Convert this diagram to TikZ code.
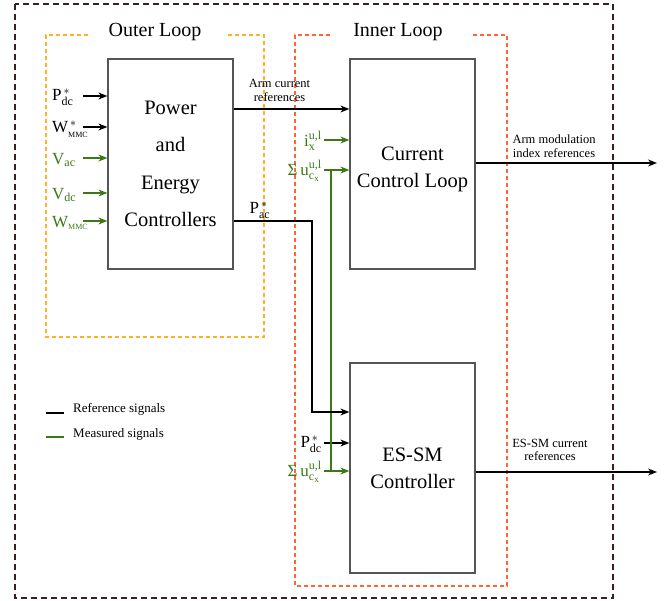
\documentclass[tikz,border=0pt]{standalone}
\usepackage{amsmath}
\usepackage{fontspec}
\setmainfont{Liberation Serif}
\DeclareMathSizes{17}{17}{12}{9}
\usetikzlibrary{arrows.meta}
\definecolor{meas}{RGB}{60,120,20}
\definecolor{outerc}{RGB}{60,30,30}
\definecolor{olc}{RGB}{255,175,40}
\definecolor{ilc}{RGB}{255,100,55}
\definecolor{boxc}{RGB}{85,85,85}
\newcommand\mmcsub{\text{\fontsize{8}{8}\selectfont MMC}}
\begin{document}
\begin{tikzpicture}[x=1pt,y=-1pt,
  block/.style={draw=boxc, line width=1.3pt, fill=white, minimum width=125pt, minimum height=210pt, align=center, inner sep=0pt},
  sig/.style={draw=black, line width=1.1pt, -{Stealth[length=9pt,width=7pt]}},
  msig/.style={draw=meas, line width=1.1pt, -{Stealth[length=9pt,width=7pt]}},
  mline/.style={draw=meas, line width=1.1pt},
  rline/.style={draw=black, line width=1.1pt},
  lbl/.style={font=\fontsize{17}{19}\selectfont, inner sep=2pt},
  small/.style={font=\fontsize{12.5}{13.5}\selectfont, align=center, inner sep=1pt},
  title/.style={font=\fontsize{20}{24}\selectfont, inner sep=0pt},
  outerbox/.style={draw=outerc, line width=1.1pt, dash pattern=on 6pt off 4pt},
  olbox/.style={draw=olc, line width=1.3pt, dash pattern=on 4pt off 3pt},
  ilbox/.style={draw=ilc, line width=1.3pt, dash pattern=on 4pt off 3pt}
]
\useasboundingbox (0,0) rectangle (672,601);
% dashed frames
\draw[outerbox] (15,4) rectangle (613,598);
\draw[olbox] (88,35) -- (46,35) -- (46,337) -- (264,337) -- (264,35) -- (228,35);
\draw[ilbox] (330,35) -- (295,35) -- (295,586) -- (507,586) -- (507,35) -- (470,35);
\node[title] (tol) at (155,32) {Outer Loop};
\node[title] (til) at (398,32) {Inner Loop};
% blocks
\node[block, font=\fontsize{20.5}{37.5}\selectfont] (pw) at (170.5,164) {Power\\and\\Energy\\Controllers};
\node[block, font=\fontsize{20.5}{27}\selectfont, text height=51pt] (cc) at (412.5,164) {Current\\Control Loop};
\node[block, font=\fontsize{20.5}{27}\selectfont] (es) at (412.5,468) {ES-SM\\Controller};
% inputs of power block
\node[lbl, anchor=west] (i1) at (50,97) {$\text{P}^{\,*}_{\text{dc}}$};
\node[lbl, anchor=west] (i2) at (50,129) {$\text{W}^{\,*}_{\mmcsub}$};
\node[lbl, anchor=west, text=meas] (i3) at (50,160) {$\text{V}_{\text{ac}}$};
\node[lbl, anchor=west, text=meas] (i4) at (50,195) {$\text{V}_{\text{dc}}$};
\node[lbl, anchor=west, text=meas] (i5) at (50,223) {$\text{W}_{\mmcsub}$};
\coordinate (s1) at (83,96);
\coordinate (s2) at (83,127);
\coordinate (s3) at (83,158);
\coordinate (s4) at (83,193);
\coordinate (s5) at (83,221);
\draw[sig] (s1) -- (s1 -| pw.west);
\draw[sig] (s2) -- (s2 -| pw.west);
\draw[msig] (s3) -- (s3 -| pw.west);
\draw[msig] (s4) -- (s4 -| pw.west);
\draw[msig] (s5) -- (s5 -| pw.west);
% arm current references
\coordinate (arm) at (0,109);
\draw[sig] (pw.east |- arm) -- (cc.west |- arm);
\node[small] (larm) at (279.5,90.5) {Arm current\\references};
% inner loop inputs
\coordinate (c1) at (324,140);
\coordinate (c2) at (324,170);
\coordinate (c3) at (324,443);
\coordinate (c4) at (324,471);
\node[lbl, anchor=east, text=meas] (ix) at (324,141) {$\text{i}^{\text{u,l}}_{\text{x}}$};
\draw[msig] (c1) -- (c1 -| cc.west);
\node[lbl, anchor=east, text=meas] (su1) at (324,171) {$\text{Σ\,u}^{\text{u,l}}_{\text{c}_{\text{x}}}$};
\draw[msig] (c2) -- (c2 -| cc.west);
\node[lbl, anchor=east] (pdc2) at (324,444) {$\text{P}^{\,*}_{\text{dc}}$};
\draw[sig] (c3) -- (c3 -| es.west);
\node[lbl, anchor=east, text=meas] (su2) at (324,472) {$\text{Σ\,u}^{\text{u,l}}_{\text{c}_{\text{x}}}$};
\draw[msig] (c4) -- (c4 -| es.west);
\coordinate (jt) at (331,170);
\coordinate (jb) at (331,471);
\draw[mline] (jt) -- (jb);
% P_ac reference
\coordinate (pacA) at (312,221);
\coordinate (pacB) at (312,412);
\draw[sig] (pw.east |- pacA) -- (pacA) -- (pacB) -- (es.west |- pacB);
\node[lbl] (lpac) at (260,210) {$\text{P}^{\,*}_{\text{ac}}$};
% outputs
\coordinate (o1) at (657,163);
\coordinate (o2) at (657,472);
\draw[sig] (cc.east |- o1) -- (o1);
\draw[sig] (es.east |- o2) -- (o2);
\node[small] (lo1) at (554,146) {Arm modulation\\index references};
\node[small] (lo2) at (550,450) {ES-SM current\\references};
% legend
\coordinate (la) at (46,413); \coordinate (lb) at (64,413);
\coordinate (lc) at (46,437); \coordinate (ld) at (64,437);
\draw[rline] (la) -- (lb);
\draw[mline] (lc) -- (ld);
\node[small, anchor=west, font=\fontsize{13}{15}\selectfont] (t1) at (72,409) {Reference signals};
\node[small, anchor=west, font=\fontsize{13}{15}\selectfont] (t2) at (72,434) {Measured signals};
\end{tikzpicture}
\end{document}
